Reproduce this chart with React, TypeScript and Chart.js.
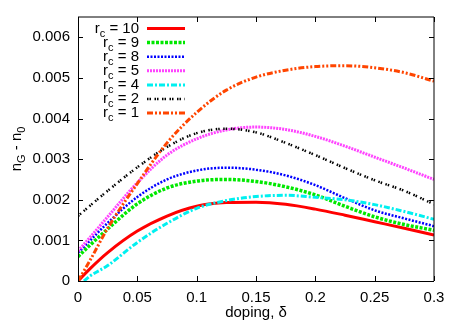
import React, { useEffect, useRef } from "react";
import { Chart, registerables } from "chart.js";

Chart.register(...registerables);

// ---- data ----
const doping = [0, 0.01, 0.025, 0.05, 0.075, 0.1, 0.125, 0.15, 0.175, 0.2, 0.225, 0.25, 0.275, 0.3];
const dopingRc4 = [0.005, 0.01, 0.025, 0.05, 0.075, 0.1, 0.125, 0.15, 0.175, 0.2, 0.225, 0.25, 0.275, 0.3];

const rc10 = [0, 0.0003, 0.0007, 0.00123, 0.0016, 0.00184, 0.00193, 0.00194, 0.00189, 0.00177, 0.00162, 0.00146, 0.0013, 0.00113];
const rc9 = [0.0006, 0.00088, 0.00128, 0.0019, 0.00229, 0.00246, 0.0025, 0.00245, 0.00232, 0.00212, 0.00184, 0.00158, 0.00139, 0.00125];
const rc8 = [0.0007, 0.00099, 0.00143, 0.00207, 0.0025, 0.00272, 0.00279, 0.00274, 0.0026, 0.00236, 0.00204, 0.00174, 0.00154, 0.00135];
const rc5 = [0.00074, 0.00107, 0.00158, 0.00242, 0.0031, 0.0035, 0.00372, 0.00379, 0.00373, 0.00356, 0.00332, 0.00305, 0.00278, 0.0025];
const rc4 = [0, 0.00012, 0.00038, 0.00095, 0.00142, 0.00179, 0.00198, 0.00208, 0.00211, 0.00206, 0.002, 0.00188, 0.00171, 0.00152];
const rc2 = [0.0016, 0.00185, 0.00222, 0.0028, 0.0033, 0.00364, 0.00375, 0.00366, 0.0034, 0.0031, 0.00278, 0.00248, 0.00222, 0.00189];
const rc1 = [0, 0.0005, 0.0013, 0.0024, 0.0034, 0.00415, 0.0047, 0.00502, 0.00519, 0.00528, 0.0053, 0.00525, 0.00513, 0.00492];

const seriesLabels = ["10", "9", "8", "5", "4", "2", "1"];
const xTicks = [0, 0.05, 0.1, 0.15, 0.2, 0.25, 0.3];
const yTicks = [0, 0.001, 0.002, 0.003, 0.004, 0.005, 0.006];

const styles = [
  { color: "#ff0000", width: 3, dash: [] as number[] },
  { color: "#00e800", width: 3.5, dash: [3, 1.5] },
  { color: "#0000ff", width: 2.5, dash: [2, 1.5] },
  { color: "#ff44ff", width: 3, dash: [2, 1] },
  { color: "#00f0f0", width: 3, dash: [6, 2, 2, 2] },
  { color: "#000000", width: 2.5, dash: [1.5, 1, 1.5, 3.5] },
  { color: "#ff4500", width: 3, dash: [6, 2, 2, 2, 2, 2] },
];

const FONT = "'Liberation Sans', Arial, sans-serif";

function drawSubText(
  ctx: CanvasRenderingContext2D,
  parts: { t: string; sub?: boolean }[],
  x: number,
  y: number,
  align: "left" | "right" | "center"
) {
  const big = `15px ${FONT}`;
  const small = `11px ${FONT}`;
  let total = 0;
  for (const p of parts) {
    ctx.font = p.sub ? small : big;
    total += ctx.measureText(p.t).width;
  }
  let cx = align === "left" ? x : align === "right" ? x - total : x - total / 2;
  ctx.textAlign = "left";
  ctx.textBaseline = "alphabetic";
  for (const p of parts) {
    ctx.font = p.sub ? small : big;
    ctx.fillText(p.t, cx, p.sub ? y + 4 : y);
    cx += ctx.measureText(p.t).width;
  }
}

const framePlugin = {
  id: "gnuframe",
  afterDraw(chart: any) {
    const ctx: CanvasRenderingContext2D = chart.ctx;
    const { left, right, top, bottom } = chart.chartArea;
    const xs = chart.scales.x;
    const ys = chart.scales.y;
    ctx.save();
    ctx.strokeStyle = "#000";
    ctx.lineWidth = 1;
    ctx.setLineDash([]);
    // border
    ctx.beginPath();
    ctx.moveTo(left + 0.5, top);
    ctx.lineTo(left + 0.5, bottom + 0.5);
    ctx.lineTo(right, bottom + 0.5);
    ctx.stroke();
    ctx.beginPath();
    ctx.moveTo(left, top);
    ctx.lineTo(right, top);
    ctx.lineTo(right, bottom);
    ctx.stroke();
    // ticks
    const tl = 5;
    ctx.beginPath();
    for (const v of xTicks) {
      const px = Math.round(xs.getPixelForValue(v)) + 0.5;
      ctx.moveTo(px, bottom);
      ctx.lineTo(px, bottom - tl);
      ctx.moveTo(px, top);
      ctx.lineTo(px, top + tl);
    }
    for (const v of yTicks) {
      const py = Math.round(ys.getPixelForValue(v)) + 0.5;
      ctx.moveTo(left, py);
      ctx.lineTo(left + tl, py);
      ctx.moveTo(right, py);
      ctx.lineTo(right - tl, py);
    }
    ctx.stroke();

    // legend
    ctx.fillStyle = "#000";
    const rowY0 = 28.5;
    const rowH = 14.1;
    seriesLabels.forEach((lab, i) => {
      const cy = rowY0 + i * rowH;
      drawSubText(ctx, [{ t: "r" }, { t: "c", sub: true }, { t: " = " + lab }], 139, cy + 4, "right");
      const s = styles[i];
      ctx.beginPath();
      ctx.strokeStyle = s.color;
      ctx.lineWidth = s.width;
      ctx.setLineDash(s.dash);
      ctx.moveTo(147, cy);
      ctx.lineTo(185, cy);
      ctx.stroke();
    });
    ctx.setLineDash([]);

    // axis titles
    ctx.fillStyle = "#000";
    ctx.font = `15px ${FONT}`;
    ctx.textAlign = "center";
    ctx.textBaseline = "middle";
    ctx.fillText("doping, \u03b4", (left + right) / 2, 313);
    ctx.save();
    ctx.translate(21, (top + bottom) / 2);
    ctx.rotate(-Math.PI / 2);
    drawSubText(ctx, [{ t: "n" }, { t: "G", sub: true }, { t: " - n" }, { t: "0", sub: true }], 0, 0, "center");
    ctx.restore();
    ctx.restore();
  },
};

export default function App() {
  const ref = useRef<HTMLCanvasElement | null>(null);
  useEffect(() => {
    if (!ref.current) return;
    const all = [rc10, rc9, rc8, rc5, rc4, rc2, rc1];
    const datasets = all.map((arr, i) => {
      const xsArr = i === 4 ? dopingRc4 : doping;
      return {
        label: "rc = " + seriesLabels[i],
        data: arr.map((y, k) => ({ x: xsArr[k], y })),
        borderColor: styles[i].color,
        borderWidth: styles[i].width,
        borderDash: styles[i].dash,
        pointRadius: 0,
        fill: false,
        cubicInterpolationMode: "monotone" as const,
        order: -i,
      };
    });
    const chart = new Chart(ref.current, {
      type: "line",
      data: { datasets },
      options: {
        responsive: false,
        animation: false,
        events: [],
        layout: { padding: { top: 17, right: 33, left: 0, bottom: 0 } },
        plugins: { legend: { display: false }, tooltip: { enabled: false } },
        scales: {
          x: {
            type: "linear",
            min: 0,
            max: 0.3,
            grid: { display: false, drawTicks: false },
            border: { display: false },
            afterBuildTicks: (s: any) => {
              s.ticks = xTicks.map((v) => ({ value: v }));
            },
            afterFit: (s: any) => {
              s.height = 46;
            },
            ticks: {
              autoSkip: false,
              maxRotation: 0,
              padding: 8,
              color: "#000",
              font: { family: FONT, size: 15 },
              callback: (v: any) => String(Number(Number(v).toFixed(3))),
            },
          },
          y: {
            type: "linear",
            min: 0,
            max: 0.0065,
            grid: { display: false, drawTicks: false },
            border: { display: false },
            afterBuildTicks: (s: any) => {
              s.ticks = yTicks.map((v) => ({ value: v }));
            },
            afterFit: (s: any) => {
              s.width = 78;
            },
            ticks: {
              padding: 8,
              color: "#000",
              font: { family: FONT, size: 15 },
              callback: (v: any) => String(Number(Number(v).toFixed(4))),
            },
          },
        },
      },
      plugins: [framePlugin],
    });
    return () => chart.destroy();
  }, []);
  return (
    <div style={{ position: "fixed", left: 0, top: 0, width: 467, height: 327, background: "#fff" }}>
      <canvas ref={ref} width={467} height={327} style={{ width: 467, height: 327 }} />
    </div>
  );
}
